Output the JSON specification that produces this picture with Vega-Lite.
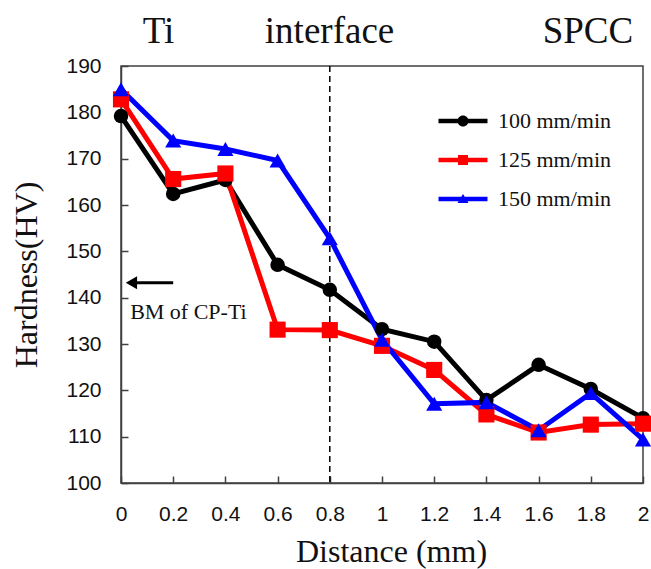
{
  "$schema": "https://vega.github.io/schema/vega-lite/v6.json",
  "autosize": "none",
  "width": 522,
  "height": 417,
  "padding": {"left": 121, "top": 66, "right": 8, "bottom": 86},
  "background": "white",
  "config": {
    "view": {"stroke": "#404040", "strokeWidth": 1.5},
    "axis": {
      "domainColor": "#404040",
      "domainWidth": 1.5,
      "tickColor": "#404040",
      "tickWidth": 1.5,
      "tickSize": -7,
      "grid": false,
      "labelFlush": false,
      "labelFont": "Liberation Sans",
      "labelFontSize": 21,
      "labelColor": "#111111",
      "titleFont": "Liberation Serif",
      "titleFontSize": 32,
      "titleFontWeight": "normal",
      "titleColor": "#111111"
    }
  },
  "datasets": {
    "hv": [
      {"d": 0, "s": "100 mm/min", "h": 179.2},
      {"d": 0.2, "s": "100 mm/min", "h": 162.4},
      {"d": 0.4, "s": "100 mm/min", "h": 165.4},
      {"d": 0.6, "s": "100 mm/min", "h": 147.1},
      {"d": 0.8, "s": "100 mm/min", "h": 141.7},
      {"d": 1.0, "s": "100 mm/min", "h": 133.2},
      {"d": 1.2, "s": "100 mm/min", "h": 130.5},
      {"d": 1.4, "s": "100 mm/min", "h": 117.9},
      {"d": 1.6, "s": "100 mm/min", "h": 125.5},
      {"d": 1.8, "s": "100 mm/min", "h": 120.3},
      {"d": 2.0, "s": "100 mm/min", "h": 114.0},
      {"d": 0, "s": "125 mm/min", "h": 182.8},
      {"d": 0.2, "s": "125 mm/min", "h": 165.6},
      {"d": 0.4, "s": "125 mm/min", "h": 166.8},
      {"d": 0.6, "s": "125 mm/min", "h": 133.1},
      {"d": 0.8, "s": "125 mm/min", "h": 133.0},
      {"d": 1.0, "s": "125 mm/min", "h": 129.6},
      {"d": 1.2, "s": "125 mm/min", "h": 124.4},
      {"d": 1.4, "s": "125 mm/min", "h": 114.8},
      {"d": 1.6, "s": "125 mm/min", "h": 110.9},
      {"d": 1.8, "s": "125 mm/min", "h": 112.6},
      {"d": 2.0, "s": "125 mm/min", "h": 112.8},
      {"d": 0, "s": "150 mm/min", "h": 185.0},
      {"d": 0.2, "s": "150 mm/min", "h": 173.9},
      {"d": 0.4, "s": "150 mm/min", "h": 172.1},
      {"d": 0.6, "s": "150 mm/min", "h": 169.6},
      {"d": 0.8, "s": "150 mm/min", "h": 152.8},
      {"d": 1.0, "s": "150 mm/min", "h": 130.9},
      {"d": 1.2, "s": "150 mm/min", "h": 117.1},
      {"d": 1.4, "s": "150 mm/min", "h": 117.4},
      {"d": 1.6, "s": "150 mm/min", "h": 111.4},
      {"d": 1.8, "s": "150 mm/min", "h": 119.4},
      {"d": 2.0, "s": "150 mm/min", "h": 109.4}
    ],
    "regions": [
      {"x": 0.144, "y": 195.0, "t": "Ti"},
      {"x": 0.799, "y": 195.0, "t": "interface"},
      {"x": 1.789, "y": 195.0, "t": "SPCC"}
    ],
    "note": [
      {"x": 0.035, "y": 135.3, "t": "BM of CP-Ti"}
    ],
    "arrow": [
      {"x": 0.04, "x2": 0.2, "y": 143.2}
    ],
    "iface": [
      {"x": 0.8}
    ]
  },
  "layer": [
    {
      "data": {"name": "iface"},
      "mark": {"type": "rule", "color": "black", "strokeWidth": 1.5, "strokeDash": [6, 4]},
      "encoding": {
        "x": {"field": "x", "type": "quantitative", "scale": {"domain": [0, 2]}}
      }
    },
    {
      "data": {"name": "hv"},
      "mark": {"type": "line", "strokeWidth": 5},
      "encoding": {
        "x": {"field": "d", "type": "quantitative", "scale": {"domain": [0, 2], "nice": false},
          "axis": {"values": [0, 0.2, 0.4, 0.6, 0.8, 1, 1.2, 1.4, 1.6, 1.8, 2], "format": "~g", "labelPadding": 27, "labelFlush": false, "title": "Distance (mm)", "titleFont": "Liberation Serif", "titlePadding": 12, "titleX": 270}},
        "y": {"field": "h", "type": "quantitative", "scale": {"domain": [100, 190], "nice": false, "zero": false},
          "axis": {"values": [100, 110, 120, 130, 140, 150, 160, 170, 180, 190], "labelPadding": 27, "labelFlush": false, "title": "Hardness(HV)", "titleFont": "Liberation Serif", "titlePadding": 22}},
        "color": {
          "field": "s", "type": "nominal",
          "scale": {"domain": ["100 mm/min", "125 mm/min", "150 mm/min"], "range": ["#000000", "#ff0000", "#0000ff"]},
          "legend": {
            "orient": "none",
            "legendX": 331,
            "legendY": 44,
            "title": null,
            "padding": 0,
            "symbolSize": 400,
            "labelOffset": 24,
            "labelFont": "Liberation Serif",
            "labelFontSize": 22,
            "labelColor": "#111111",
            "rowPadding": 17,
            "encode": {
              "symbols": {
                "update": {
                  "shape": {"signal": "datum.value === '100 mm/min' ? 'M-2.45,-0.22H2.45V0.22H-2.45ZM0.55,0A0.55,0.55,0,1,1,-0.55,0A0.55,0.55,0,1,1,0.55,0Z' : datum.value === '125 mm/min' ? 'M-2.45,-0.22H2.45V0.22H-2.45ZM-0.5,-0.5H0.5V0.5H-0.5Z' : 'M-2.45,-0.22H2.45V0.22H-2.45ZM0,-0.5L0.55,0.4H-0.55Z'"},
                  "fill": {"signal": "scale('color', datum.value)"},
                  "fillOpacity": {"value": 1},
                  "strokeWidth": {"value": 0}
                }
              }
            }
          }
        }
      }
    },
    {
      "data": {"name": "hv"},
      "transform": [{"filter": "datum.s === '100 mm/min'"}],
      "mark": {"type": "point", "shape": "circle", "filled": true, "opacity": 1, "size": 210},
      "encoding": {
        "x": {"field": "d", "type": "quantitative"},
        "y": {"field": "h", "type": "quantitative"},
        "color": {"field": "s", "type": "nominal"}
      }
    },
    {
      "data": {"name": "hv"},
      "transform": [{"filter": "datum.s === '125 mm/min'"}],
      "mark": {"type": "point", "shape": "square", "filled": true, "opacity": 1, "size": 260},
      "encoding": {
        "x": {"field": "d", "type": "quantitative"},
        "y": {"field": "h", "type": "quantitative"},
        "color": {"field": "s", "type": "nominal"}
      }
    },
    {
      "data": {"name": "hv"},
      "transform": [{"filter": "datum.s === '150 mm/min'"}],
      "mark": {"type": "point", "shape": "triangle-up", "filled": true, "opacity": 1, "size": 260},
      "encoding": {
        "x": {"field": "d", "type": "quantitative"},
        "y": {"field": "h", "type": "quantitative"},
        "color": {"field": "s", "type": "nominal"}
      }
    },
    {
      "data": {"name": "arrow"},
      "mark": {"type": "rule", "color": "black", "strokeWidth": 3},
      "encoding": {
        "x": {"field": "x", "type": "quantitative"},
        "x2": {"field": "x2"},
        "y": {"field": "y", "type": "quantitative"}
      }
    },
    {
      "data": {"name": "arrow"},
      "mark": {"type": "point", "shape": "triangle-left", "filled": true, "color": "black", "opacity": 1, "size": 170},
      "encoding": {
        "x": {"field": "x", "type": "quantitative"},
        "y": {"field": "y", "type": "quantitative"}
      }
    },
    {
      "data": {"name": "note"},
      "mark": {"type": "text", "font": "Liberation Serif", "fontSize": 22, "align": "left", "baseline": "alphabetic", "color": "#111111"},
      "encoding": {
        "x": {"field": "x", "type": "quantitative"},
        "y": {"field": "y", "type": "quantitative"},
        "text": {"field": "t"}
      }
    },
    {
      "data": {"name": "regions"},
      "mark": {"type": "text", "font": "Liberation Serif", "fontSize": 37, "align": "center", "baseline": "alphabetic", "color": "#111111"},
      "encoding": {
        "x": {"field": "x", "type": "quantitative"},
        "y": {"field": "y", "type": "quantitative"},
        "text": {"field": "t"}
      }
    }
  ]
}
